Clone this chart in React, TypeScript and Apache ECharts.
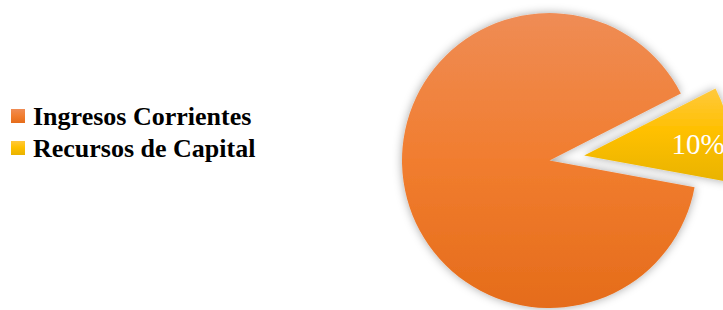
import React, { useEffect, useRef } from "react";
import * as echarts from "echarts";

const categories = ["Ingresos Corrientes", "Recursos de Capital"];
const values = [89.6, 10.4];
const selectedFlags = [false, true];

const colors = [
  new echarts.graphic.LinearGradient(0, 0, 0, 1, [
    { offset: 0, color: "#EF8C55" },
    { offset: 0.5, color: "#F17D2F" },
    { offset: 1, color: "#E56C1A" },
  ]),
  new echarts.graphic.LinearGradient(0, 0, 0, 1, [
    { offset: 0, color: "#FFC93E" },
    { offset: 0.45, color: "#FFC000" },
    { offset: 1, color: "#E9B300" },
  ]),
];

export default function App() {
  const ref = useRef<HTMLDivElement>(null);
  useEffect(() => {
    if (!ref.current) return;
    const chart = echarts.init(ref.current, null, { renderer: "svg" });
    chart.setOption({
      animation: false,
      textStyle: { fontFamily: "Liberation Serif" },
      legend: {
        orient: "vertical",
        left: 6,
        top: 98,
        padding: 5,
        itemWidth: 14,
        itemHeight: 14,
        itemGap: 6,
        icon: "rect",
        selectedMode: false,
        textStyle: {
          fontFamily: "Liberation Serif",
          fontWeight: "bold",
          fontSize: 26,
          lineHeight: 25,
          color: "#000",
          padding: [0, 0, 0, 3],
        },
        data: categories,
      },
      series: [
        {
          type: "pie",
          center: [549.5, 160.5],
          radius: 147.5,
          startAngle: -10.4,
          clockwise: true,
          selectedMode: "multiple",
          selectedOffset: 35,
          percentPrecision: 0,
          silent: true,
          itemStyle: {
            shadowBlur: 10,
            shadowColor: "rgba(0,0,0,0.35)",
          },
          label: {
            show: false,
            fontFamily: "Liberation Serif",
          },
          labelLine: { show: false },
          data: categories.map((name, i) => ({
            name,
            value: values[i],
            selected: selectedFlags[i],
            itemStyle: { color: colors[i] },
            label:
              i === 1
                ? {
                    show: true,
                    position: "inside",
                    formatter: "{d}%",
                    color: "#fff",
                    fontFamily: "Liberation Serif",
                    fontWeight: "normal",
                    fontSize: 29,
                    padding: [0, 0, 0, 76],
                  }
                : { show: false },
          })),
        },
      ],
    });
    return () => chart.dispose();
  }, []);
  return (
    <div
      ref={ref}
      style={{ position: "fixed", left: 0, top: 0, width: 723, height: 310, background: "#fff" }}
    />
  );
}
